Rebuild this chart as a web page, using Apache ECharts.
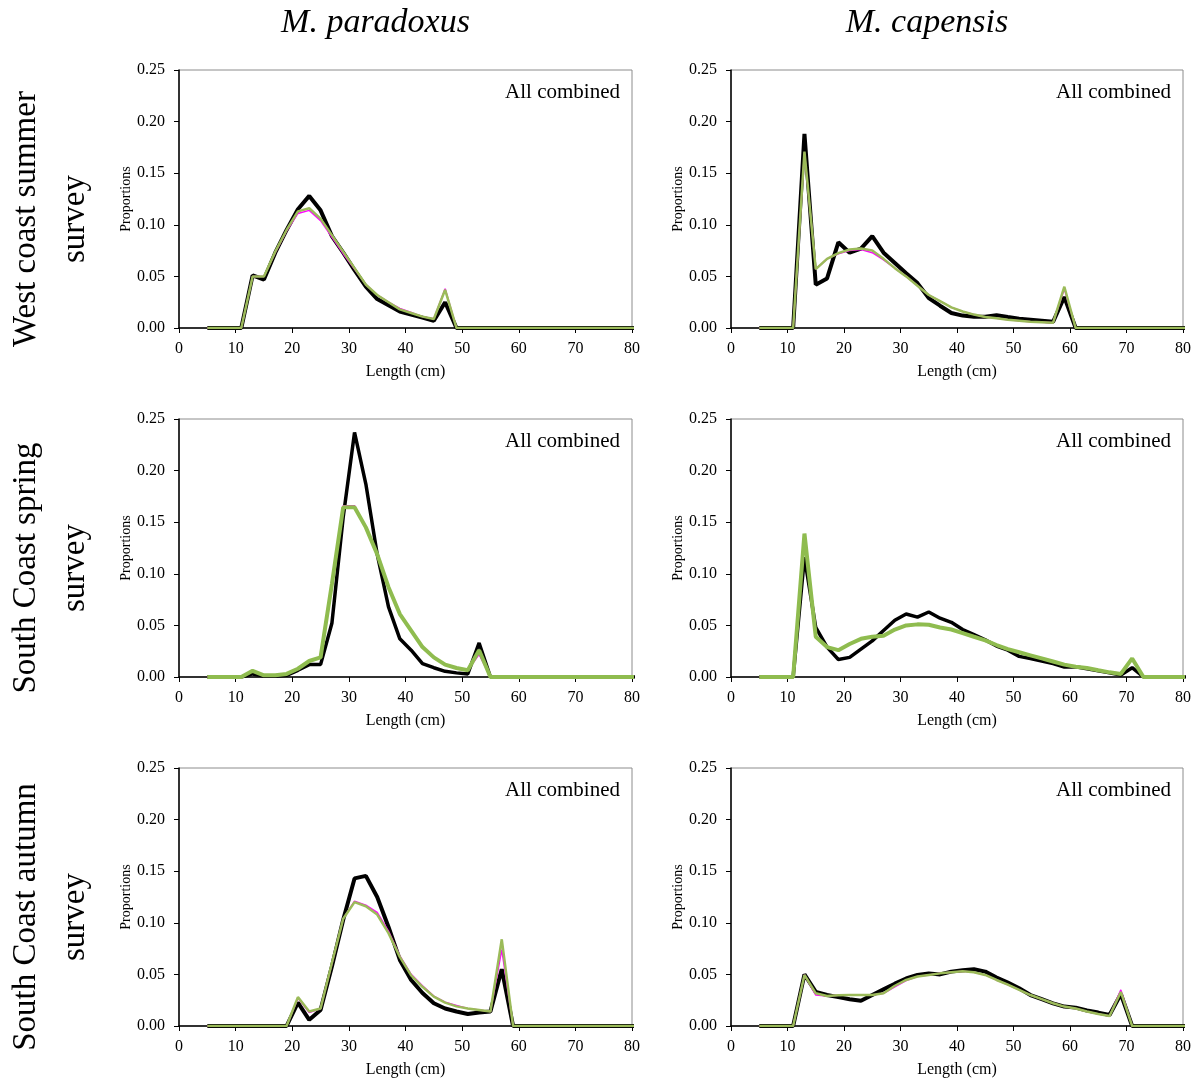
<!DOCTYPE html>
<html>
<head>
<meta charset="utf-8">
<script src="https://cdn.jsdelivr.net/npm/echarts@6/dist/echarts.min.js"></script>
<style>html,body{margin:0;padding:0;background:#fff;}#c{width:1201px;height:1082px;}</style>
</head>
<body>
<div id="c"></div>
<script>
// Length classes (cm)
var lengths = [5,7,9,11,13,15,17,19,21,23,25,27,29,31,33,35,37,39,41,43,45,47,49,51,53,55,57,59,61,63,65,67,69,71,73,75,77,79,81];
var xTicks = [0,10,20,30,40,50,60,70,80];
var yTicks = [0,0.05,0.10,0.15,0.20,0.25];
var speciesTitles = ['M. paradoxus','M. capensis'];
var surveyLabels = ['West coast summer\nsurvey','South Coast spring\nsurvey','South Coast autumn\nsurvey'];
var panelText = 'All combined';

// West coast summer – M. paradoxus
var wcParObs = [0,0,0,0,0.051,0.047,0.073,0.095,0.115,0.128,0.114,0.089,0.073,0.056,0.040,0.028,0.022,0.016,0.013,0.010,0.007,0.025,0,0,0,0,0,0,0,0,0,0,0,0,0,0,0,0,0];
var wcParFitA = [0,0,0,0,0.050,0.050,0.073,0.094,0.111,0.114,0.104,0.088,0.072,0.057,0.042,0.032,0.025,0.019,0.015,0.011,0.009,0.038,0,0,0,0,0,0,0,0,0,0,0,0,0,0,0,0,0];
var wcParFitB = [0,0,0,0,0.050,0.050,0.074,0.095,0.113,0.116,0.106,0.090,0.074,0.058,0.042,0.032,0.025,0.018,0.0145,0.011,0.0087,0.037,0,0,0,0,0,0,0,0,0,0,0,0,0,0,0,0,0];
// West coast summer – M. capensis
var wcCapObs = [0,0,0,0,0.188,0.042,0.048,0.083,0.073,0.077,0.089,0.073,0.063,0.053,0.0435,0.029,0.0216,0.0145,0.012,0.011,0.011,0.0123,0.0106,0.009,0.008,0.007,0.006,0.030,0,0,0,0,0,0,0,0,0,0,0];
var wcCapFitA = [0,0,0,0,0.170,0.057,0.067,0.072,0.075,0.076,0.073,0.066,0.058,0.050,0.041,0.032,0.026,0.020,0.016,0.013,0.0106,0.0094,0.008,0.007,0.006,0.0055,0.005,0.038,0,0,0,0,0,0,0,0,0,0,0];
var wcCapFitB = [0,0,0,0,0.171,0.057,0.067,0.0726,0.076,0.077,0.075,0.067,0.058,0.050,0.041,0.032,0.026,0.020,0.016,0.013,0.0106,0.0094,0.008,0.007,0.006,0.0055,0.005,0.040,0,0,0,0,0,0,0,0,0,0,0];
// South Coast spring – M. paradoxus
var ssParObs = [0,0,0,0,0.003,0.001,0.001,0.0016,0.0065,0.012,0.012,0.052,0.155,0.237,0.187,0.119,0.068,0.037,0.026,0.013,0.009,0.0055,0.004,0.003,0.033,0,0,0,0,0,0,0,0,0,0,0,0,0,0];
var ssParFitA = [0,0,0,0,0.006,0.0016,0.0016,0.003,0.008,0.0155,0.019,0.090,0.166,0.166,0.145,0.119,0.087,0.061,0.045,0.029,0.019,0.012,0.0087,0.0065,0.022,0,0,0,0,0,0,0,0,0,0,0,0,0,0];
var ssParFitB = [0,0,0,0,0.006,0.0016,0.0016,0.003,0.008,0.0155,0.019,0.090,0.1645,0.1645,0.145,0.119,0.087,0.061,0.045,0.029,0.019,0.012,0.0087,0.0065,0.026,0,0,0,0,0,0,0,0,0,0,0,0,0,0];
// South Coast spring – M. capensis
var ssCapObs = [0,0,0,0,0.116,0.048,0.029,0.017,0.019,0.027,0.035,0.045,0.055,0.061,0.058,0.063,0.057,0.053,0.046,0.041,0.036,0.030,0.026,0.020,0.018,0.0155,0.013,0.0097,0.010,0.008,0.006,0.004,0.002,0.009,0,0,0,0,0];
var ssCapFitA = [0,0,0,0,0.138,0.039,0.029,0.026,0.032,0.037,0.039,0.040,0.046,0.050,0.051,0.0506,0.048,0.046,0.0426,0.039,0.0355,0.031,0.027,0.024,0.021,0.018,0.015,0.012,0.010,0.0087,0.0065,0.0045,0.003,0.017,0,0,0,0,0];
var ssCapFitB = [0,0,0,0,0.139,0.039,0.029,0.026,0.032,0.037,0.039,0.040,0.046,0.050,0.051,0.0506,0.048,0.046,0.0426,0.039,0.0355,0.031,0.027,0.024,0.021,0.018,0.015,0.012,0.010,0.0087,0.0065,0.0045,0.003,0.018,0,0,0,0,0];
// South Coast autumn – M. paradoxus
var saParObs = [0,0,0,0,0,0,0,0,0.0226,0.006,0.0155,0.0576,0.103,0.143,0.1455,0.125,0.096,0.064,0.0446,0.032,0.022,0.017,0.014,0.0116,0.013,0.014,0.055,0,0,0,0,0,0,0,0,0,0,0,0];
var saParFitA = [0,0,0,0,0,0,0,0,0.027,0.013,0.017,0.060,0.104,0.121,0.117,0.110,0.092,0.068,0.050,0.039,0.029,0.023,0.020,0.017,0.0155,0.014,0.074,0,0,0,0,0,0,0,0,0,0,0,0];
var saParFitB = [0,0,0,0,0,0,0,0,0.028,0.014,0.017,0.061,0.104,0.120,0.116,0.108,0.090,0.067,0.049,0.038,0.0285,0.0226,0.019,0.017,0.0155,0.014,0.084,0,0,0,0,0,0,0,0,0,0,0,0];
// South Coast autumn – M. capensis
var saCapObs = [0,0,0,0,0.050,0.033,0.030,0.028,0.026,0.0245,0.030,0.0355,0.041,0.046,0.0495,0.051,0.050,0.0527,0.054,0.055,0.0527,0.047,0.042,0.0366,0.030,0.026,0.022,0.0188,0.0178,0.015,0.013,0.0107,0.031,0,0,0,0,0,0];
var saCapFitA = [0,0,0,0,0.0495,0.030,0.029,0.0297,0.030,0.030,0.030,0.0317,0.038,0.044,0.048,0.0495,0.051,0.052,0.053,0.052,0.0495,0.0446,0.040,0.035,0.030,0.026,0.022,0.0188,0.017,0.014,0.0116,0.0097,0.035,0,0,0,0,0,0];
var saCapFitB = [0,0,0,0,0.0495,0.0317,0.029,0.0297,0.030,0.030,0.030,0.0317,0.039,0.0446,0.048,0.0495,0.051,0.052,0.053,0.052,0.0495,0.0446,0.040,0.035,0.030,0.026,0.022,0.0188,0.017,0.014,0.0116,0.0097,0.033,0,0,0,0,0,0];

var panels = [
  [wcParObs, wcParFitA, wcParFitB], [wcCapObs, wcCapFitA, wcCapFitB],
  [ssParObs, ssParFitA, ssParFitB], [ssCapObs, ssCapFitA, ssCapFitB],
  [saParObs, saParFitA, saParFitB], [saCapObs, saCapFitA, saCapFitB]
];

var FONT = '"Liberation Serif", "Times New Roman", serif';
var colLeft = [179, 731], colWidth = [453, 452];
var rowTop = [70, 419, 768], rowHeight = 258;
var blackW = [4, 3.5, 4], greenW = [2.5, 4, 2.5], greenC = ['#9bbb59', '#8fbc4f', '#9bbb59'];

function pairs(arr){ return lengths.map(function(x,i){ return [x, arr[i]]; }); }

var grids = [], xAxes = [], yAxes = [], series = [], graphics = [];
for (var r = 0; r < 3; r++) {
  for (var c = 0; c < 2; c++) {
    var k = r*2 + c;
    grids.push({left: colLeft[c], top: rowTop[r], width: colWidth[c], height: rowHeight,
      show: true, borderColor: '#8c8c8c', borderWidth: 1, backgroundColor: 'transparent'});
    xAxes.push({type: 'value', gridIndex: k, min: xTicks[0], max: xTicks[xTicks.length-1], interval: 10,
      name: 'Length (cm)', nameLocation: 'middle', nameGap: 36,
      nameTextStyle: {fontFamily: FONT, fontSize: 16, color: '#000'},
      axisLine: {show: true, onZero: false, lineStyle: {color: '#000', width: 1.5}},
      axisTick: {show: true, inside: false, length: 5, lineStyle: {color: '#000'}},
      axisLabel: {fontFamily: FONT, fontSize: 16, color: '#000', margin: 13},
      splitLine: {show: false}});
    yAxes.push({type: 'value', gridIndex: k, min: yTicks[0], max: yTicks[yTicks.length-1], interval: 0.05,
      name: 'Proportions', nameLocation: 'middle', nameGap: 46, nameRotate: 90,
      nameTextStyle: {fontFamily: FONT, fontSize: 14, color: '#000'},
      axisLine: {show: true, lineStyle: {color: '#000', width: 1.5}},
      axisTick: {show: true, inside: false, length: 5, lineStyle: {color: '#000'}},
      axisLabel: {fontFamily: FONT, fontSize: 16, color: '#000', margin: 14,
        formatter: function(v){ return v.toFixed(2); }},
      splitLine: {show: false}});
    var d = panels[k];
    series.push({type: 'line', xAxisIndex: k, yAxisIndex: k, data: pairs(d[0]), symbol: 'none',
      lineStyle: {color: '#000', width: blackW[r]}, z: 2, clip: true, animation: false});
    series.push({type: 'line', xAxisIndex: k, yAxisIndex: k, data: pairs(d[1]), symbol: 'none',
      lineStyle: {color: '#ff00ff', width: 1.5}, z: 3, clip: true, animation: false});
    series.push({type: 'line', xAxisIndex: k, yAxisIndex: k, data: pairs(d[2]), symbol: 'none',
      lineStyle: {color: greenC[r], width: greenW[r]}, z: 4, clip: true, animation: false});
    graphics.push({type: 'text', x: colLeft[c] + colWidth[c] - 12, y: rowTop[r] + 22,
      style: {text: panelText, font: '21px ' + FONT, fill: '#000', align: 'right', verticalAlign: 'middle'}});
  }
  graphics.push({type: 'text', x: 51, y: rowTop[r] + 149, rotation: Math.PI/2,
    style: {text: surveyLabels[r], font: '33px ' + FONT, fill: '#000', align: 'center', verticalAlign: 'middle', lineHeight: 49}});
}
for (var c2 = 0; c2 < 2; c2++) {
  graphics.push({type: 'text', x: colLeft[c2] + colWidth[c2]/2 - 30, y: 23,
    style: {text: speciesTitles[c2], font: 'italic 34px ' + FONT, fill: '#000', align: 'center', verticalAlign: 'middle'}});
}

var chart = echarts.init(document.getElementById('c'), null, {renderer: 'canvas'});
chart.setOption({
  animation: false,
  backgroundColor: '#fff',
  grid: grids, xAxis: xAxes, yAxis: yAxes, series: series, graphic: graphics
});
</script>
</body>
</html>
